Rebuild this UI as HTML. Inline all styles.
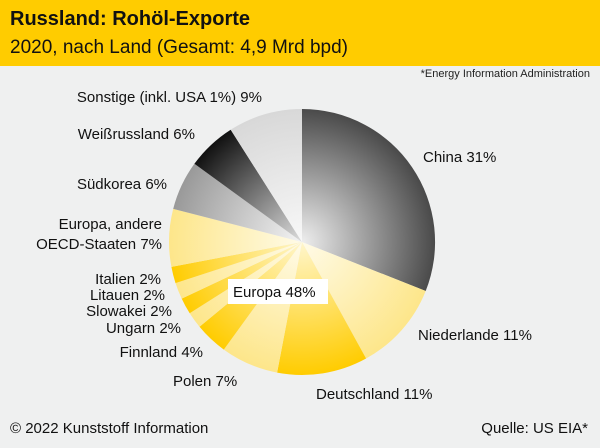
<!DOCTYPE html>
<html><head><meta charset="utf-8"><style>
body{margin:0;width:600px;height:443px;background:#eff0f0;font-family:"Liberation Sans",sans-serif;overflow:hidden}
</style></head><body>
<svg width="600" height="443" xmlns="http://www.w3.org/2000/svg" font-family="Liberation Sans, sans-serif">
<defs>
<radialGradient id="gChina" cx="302" cy="242" r="133" gradientUnits="userSpaceOnUse"><stop offset="0" stop-color="#eeeeee"/><stop offset="1" stop-color="#4a4a4a"/></radialGradient>
<radialGradient id="gY1" cx="302" cy="242" r="133" gradientUnits="userSpaceOnUse"><stop offset="0" stop-color="#fffbe8"/><stop offset="1" stop-color="#fde68a"/></radialGradient>
<radialGradient id="gY2" cx="302" cy="242" r="133" gradientUnits="userSpaceOnUse"><stop offset="0" stop-color="#fff6cc"/><stop offset="1" stop-color="#ffcc00"/></radialGradient>
<radialGradient id="gG1" cx="302" cy="242" r="133" gradientUnits="userSpaceOnUse"><stop offset="0" stop-color="#f4f4f4"/><stop offset="1" stop-color="#999999"/></radialGradient>
<radialGradient id="gB" cx="302" cy="242" r="133" gradientUnits="userSpaceOnUse"><stop offset="0" stop-color="#dddddd"/><stop offset="1" stop-color="#111111"/></radialGradient>
<radialGradient id="gL" cx="302" cy="242" r="133" gradientUnits="userSpaceOnUse"><stop offset="0" stop-color="#f8f8f8"/><stop offset="1" stop-color="#d8d8d8"/></radialGradient>
</defs>
<rect x="0" y="0" width="600" height="66" fill="#ffcc00"/>
<text x="10" y="25" font-size="20" font-weight="bold" fill="#111">Russland: Rohöl-Exporte</text>
<text x="10" y="53" font-size="19" fill="#111">2020, nach Land (Gesamt: 4,9 Mrd bpd)</text>
<text x="590" y="77" font-size="11" fill="#222" text-anchor="end">*Energy Information Administration</text>
<g>
<path d="M302,242 L302,109 A133,133 0 0 1 425.7,291 Z" fill="url(#gChina)"/>
<path d="M302,242 L425.7,291 A133,133 0 0 1 366.1,358.5 Z" fill="url(#gY1)"/>
<path d="M302,242 L366.1,358.5 A133,133 0 0 1 277.1,372.6 Z" fill="url(#gY2)"/>
<path d="M302,242 L277.1,372.6 A133,133 0 0 1 223.8,349.6 Z" fill="url(#gY1)"/>
<path d="M302,242 L223.8,349.6 A133,133 0 0 1 199.5,326.8 Z" fill="url(#gY2)"/>
<path d="M302,242 L199.5,326.8 A133,133 0 0 1 189.7,313.3 Z" fill="url(#gY1)"/>
<path d="M302,242 L189.7,313.3 A133,133 0 0 1 181.7,298.6 Z" fill="url(#gY2)"/>
<path d="M302,242 L181.7,298.6 A133,133 0 0 1 175.5,283.1 Z" fill="url(#gY1)"/>
<path d="M302,242 L175.5,283.1 A133,133 0 0 1 171.4,266.9 Z" fill="url(#gY2)"/>
<path d="M302,242 L171.4,266.9 A133,133 0 0 1 173.2,208.9 Z" fill="url(#gY1)"/>
<path d="M302,242 L173.2,208.9 A133,133 0 0 1 194.4,163.8 Z" fill="url(#gG1)"/>
<path d="M302,242 L194.4,163.8 A133,133 0 0 1 230.7,129.7 Z" fill="url(#gB)"/>
<path d="M302,242 L230.7,129.7 A133,133 0 0 1 302,109 Z" fill="url(#gL)"/>
</g>
<rect x="228" y="279" width="100" height="25" fill="#fff"/>
<g font-size="15" fill="#111">
<text x="233" y="297">Europa 48%</text>
<text x="423" y="162">China 31%</text>
<text x="418" y="340">Niederlande 11%</text>
<text x="316" y="399">Deutschland 11%</text>
<text x="173" y="386">Polen 7%</text>
<text x="203" y="357" text-anchor="end">Finnland 4%</text>
<text x="181" y="333" text-anchor="end">Ungarn 2%</text>
<text x="172" y="316" text-anchor="end">Slowakei 2%</text>
<text x="165" y="300" text-anchor="end">Litauen 2%</text>
<text x="161" y="284" text-anchor="end">Italien 2%</text>
<text x="162" y="229" text-anchor="end">Europa, andere</text>
<text x="162" y="249" text-anchor="end">OECD-Staaten 7%</text>
<text x="167" y="189" text-anchor="end">Südkorea 6%</text>
<text x="195" y="139" text-anchor="end">Weißrussland 6%</text>
<text x="262" y="102" text-anchor="end">Sonstige (inkl. USA 1%) 9%</text>
<text x="10" y="433">© 2022 Kunststoff Information</text>
<text x="588" y="433" text-anchor="end">Quelle: US EIA*</text>
</g>
</svg>
</body></html>
